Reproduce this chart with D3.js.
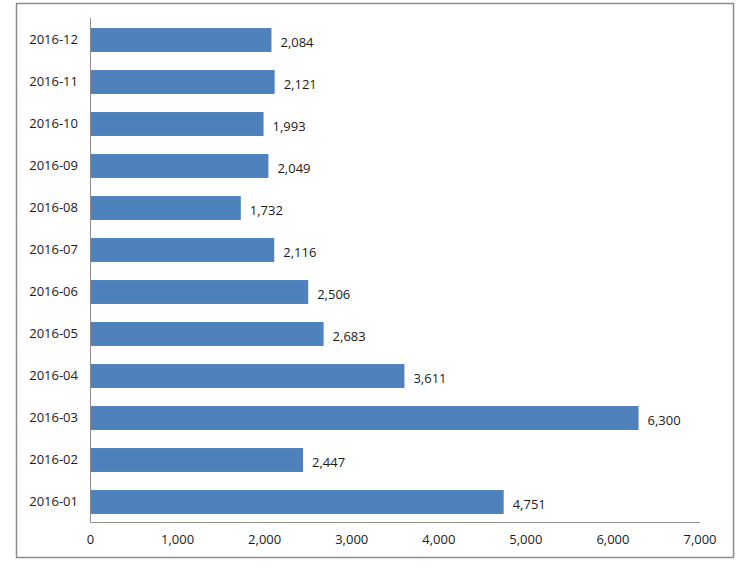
<!DOCTYPE html>
<html>
<head>
<meta charset="utf-8">
<script src="https://cdn.jsdelivr.net/npm/d3@7"></script>
<style>
  body { margin: 0; background: #fff; }
  text { font-family: "Open Sans", sans-serif; fill: #1a1a1a; }
</style>
</head>
<body>
<script>
// months, top to bottom
var months = ["2016-12", "2016-11", "2016-10", "2016-09", "2016-08", "2016-07",
              "2016-06", "2016-05", "2016-04", "2016-03", "2016-02", "2016-01"];
var counts = [2084, 2121, 1993, 2049, 1732, 2116, 2506, 2683, 3611, 6300, 2447, 4751];
var xTicks = [0, 1000, 2000, 3000, 4000, 5000, 6000, 7000];

var w = 743, h = 586;
var svg = d3.select("body").append("svg")
    .attr("width", w)
    .attr("height", h);

// outer frame
svg.append("rect")
    .attr("x", 16.5).attr("y", 3.5)
    .attr("width", 717).attr("height", 554)
    .attr("fill", "none")
    .attr("stroke", "#8c8c8c")
    .attr("stroke-width", 1.5);

var xScale = d3.scaleLinear().domain([0, 7000]).range([90, 699.5]);
var yScale = d3.scaleBand().domain(months).range([19, 523])
    .paddingInner(0.43).paddingOuter(0.215);

var fmt = d3.format(",");

// bars
svg.selectAll("rect.bar")
   .data(counts)
   .enter()
   .append("rect")
   .attr("class", "bar")
   .attr("x", xScale(0))
   .attr("y", function(d, i) { return yScale(months[i]); })
   .attr("width", function(d) { return xScale(d) - xScale(0); })
   .attr("height", yScale.bandwidth())
   .attr("fill", "#4f81bd");

// value labels
svg.selectAll("text.val")
   .data(counts)
   .enter()
   .append("text")
   .attr("class", "val")
   .attr("x", function(d) { return xScale(d) + 9; })
   .attr("y", function(d, i) { return yScale(months[i]) + yScale.bandwidth() / 2 + 2; })
   .attr("dy", "0.35em")
   .style("font-size", "13px")
   .text(function(d) { return fmt(d); });

// y axis (category labels, no ticks)
var yAxis = d3.axisLeft(yScale).tickSize(0).tickPadding(12);
var gy = svg.append("g")
    .attr("transform", "translate(90,0)")
    .call(yAxis);
gy.select(".domain").attr("stroke", "#8c8c8c").attr("d", "M0.5,18V522");
gy.selectAll("text").style("font-size", "13px").attr("font-family", null);

// x axis
var xAxis = d3.axisBottom(xScale).tickValues(xTicks).tickSize(0).tickPadding(13)
    .tickFormat(fmt);
var gx = svg.append("g")
    .attr("transform", "translate(0,522)")
    .call(xAxis);
gx.select(".domain").attr("stroke", "#8c8c8c");
gx.selectAll("text").style("font-size", "13px").attr("font-family", null);
</script>
</body>
</html>
